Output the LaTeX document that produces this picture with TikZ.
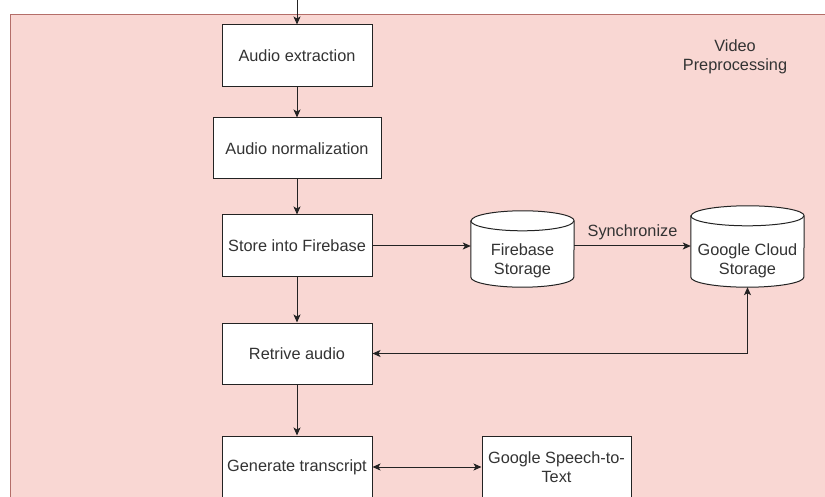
\documentclass[tikz,border=0pt]{standalone}
\usepackage{fontspec}
\setmainfont{Liberation Sans}
\usetikzlibrary{arrows.meta}
\definecolor{bgpink}{RGB}{249,215,211}
\definecolor{bgline}{RGB}{180,110,105}
\definecolor{ink}{RGB}{35,35,35}
\definecolor{txt}{RGB}{51,51,51}
\tikzset{
  box/.style={draw=ink, line width=1pt, fill=white, text=txt, inner sep=0pt, align=center,
    font=\fontsize{16.3}{19}\selectfont},
  ghost/.style={draw=none, inner sep=0pt, align=center, text=txt,
    font=\fontsize{16.3}{19}\selectfont},
  conn/.style={draw=ink, line width=1pt, -{Stealth[length=8pt,width=7pt,inset=2pt]}},
  biconn/.style={draw=ink, line width=1pt, {Stealth[length=8pt,width=7pt,inset=2pt]}-{Stealth[length=8pt,width=7pt,inset=2pt]}},
  cylline/.style={draw=ink, line width=1pt, fill=white},
  lbl/.style={text=txt, font=\fontsize{16.3}{19}\selectfont, align=center, inner sep=0pt}
}
\begin{document}
\begin{tikzpicture}[x=1pt,y=-1pt]
\useasboundingbox (0,0) rectangle (825,497);
\clip (0,0) rectangle (825,497);
\fill[white] (0,0) rectangle (825,497);
\draw[fill=bgpink, draw=bgline, line width=1pt] (10,15) rectangle (840,520);

\node[lbl] (title) at (735,57) {Video\\Preprocessing};

\coordinate (start) at (297,-2);
\node[box, minimum width=150pt, minimum height=62pt] (ae) at (297,56) {Audio extraction};
\node[box, minimum width=168pt, minimum height=61pt] (an) at (297,148.5) {Audio normalization};
\node[box, minimum width=150pt, minimum height=62pt] (st) at (297,246) {Store into Firebase};
\node[box, minimum width=150pt, minimum height=61pt] (ra) at (297,353.5) {Retrive audio};
\node[box, minimum width=150pt, minimum height=62pt] (gt) at (297,467) {Generate transcript};
\node[box, minimum width=149pt, minimum height=62pt] (gs) at (556.5,467) {Google Speech-to-\\Text};

% cylinders
\node[ghost, minimum width=103pt, minimum height=76pt] (fb) at (522.5,249) {};
\draw[cylline] ([yshift=-10pt]fb.north west) -- ([yshift=10pt]fb.south west)
  arc[start angle=180,end angle=360,x radius=51.5pt,y radius=10pt]
  -- ([yshift=-10pt]fb.north east)
  arc[start angle=0,end angle=180,x radius=51.5pt,y radius=10pt] -- cycle;
\draw[draw=ink, line width=1pt] ([yshift=-10pt]fb.north west)
  arc[start angle=180,end angle=360,x radius=51.5pt,y radius=10pt];
\node[lbl] at (522.5,260.5) {Firebase\\Storage};

\node[ghost, minimum width=113pt, minimum height=81pt] (gc) at (747.5,246.5) {};
\draw[cylline] ([yshift=-10pt]gc.north west) -- ([yshift=10pt]gc.south west)
  arc[start angle=180,end angle=360,x radius=56.5pt,y radius=10pt]
  -- ([yshift=-10pt]gc.north east)
  arc[start angle=0,end angle=180,x radius=56.5pt,y radius=10pt] -- cycle;
\draw[draw=ink, line width=1pt] ([yshift=-10pt]gc.north west)
  arc[start angle=180,end angle=360,x radius=56.5pt,y radius=10pt];
\node[lbl] at (747.5,260.5) {Google Cloud\\Storage};

% connectors
\draw[conn] (start) -- (ae);
\draw[conn] (ae) -- (an);
\draw[conn] (an) -- (st);
\draw[conn] (st) -- (ra);
\draw[conn] (ra) -- (gt);
\draw[conn] (st.east) -- (st.east -| fb.west);
\draw[conn] (fb.east |- st.east) -- node[midway, above=6pt, lbl] (sync) {Synchronize} (gc.west |- st.east);
\draw[biconn] (gc.south) |- (ra.east);
\draw[biconn] (gt.east) -- (gs.west);
\end{tikzpicture}
\end{document}
